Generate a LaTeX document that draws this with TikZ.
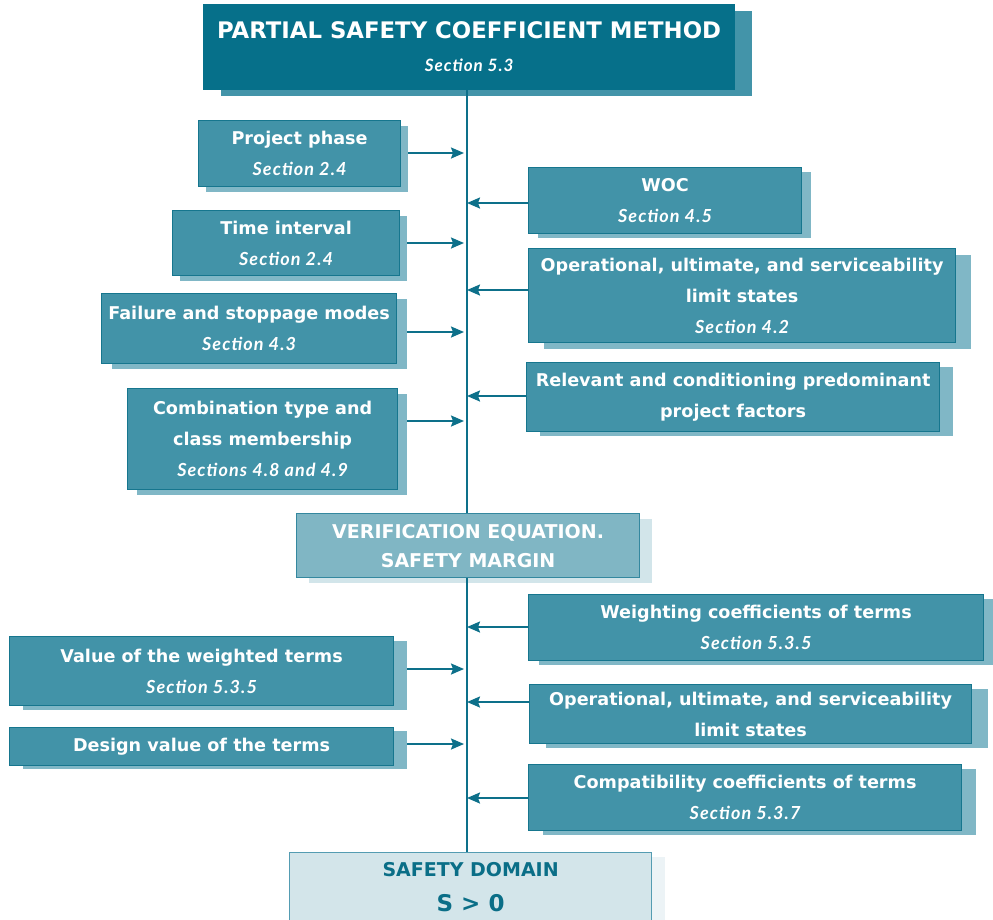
\documentclass[tikz,border=0pt]{standalone}
\usepackage{fontspec}
\setmainfont{DejaVu Sans}
\newfontfamily\secfont{Lato}[BoldItalicFeatures={LetterSpace=6}]
\usetikzlibrary{arrows.meta,shadows}

\definecolor{topfill}{RGB}{6,112,138}
\definecolor{topshade}{RGB}{67,148,169}
\definecolor{boxfill}{RGB}{66,147,168}
\definecolor{boxline}{RGB}{22,118,142}
\definecolor{boxshade}{RGB}{128,183,198}
\definecolor{verfill}{RGB}{128,182,196}
\definecolor{verline}{RGB}{52,136,159}
\definecolor{vershade}{RGB}{210,229,234}
\definecolor{safefill}{RGB}{211,229,234}
\definecolor{safeline}{RGB}{84,156,178}
\definecolor{safeshade}{RGB}{236,243,246}
\definecolor{safetext}{RGB}{10,110,135}
\definecolor{linkc}{RGB}{13,112,138}

% section references under the box titles
\newcommand{\sect}[1]{{\secfont\bfseries\itshape\fontsize{18}{31}\selectfont #1}}

\tikzset{
  base/.style={anchor=north west, inner sep=0pt, align=center,
    line width=1.2pt},
  box/.style 2 args={base, draw=boxline, fill=boxfill, text=white,
    font=\bfseries\fontsize{17.6}{31}\selectfont,
    general shadow={fill=boxshade, shadow xshift=#1pt, shadow yshift=-#2pt}},
  spine/.style={draw=linkc, line width=2.4pt},
  link/.style={draw=linkc, line width=2pt,
    -{Stealth[length=13pt,width=11pt,inset=2pt]}},
}

\begin{document}
\begin{tikzpicture}[x=1pt,y=-1pt]
\useasboundingbox (0,0) rectangle (993,919);

% title box
\node[base, draw=topfill, fill=topfill, text=white,
  minimum width=531pt, minimum height=85pt,
  font=\bfseries\fontsize{22.8}{33}\selectfont,
  general shadow={fill=topshade, shadow xshift=17pt, shadow yshift=-6pt}]
  (top) at (203,4) {PARTIAL SAFETY COEFFICIENT METHOD\\{\secfont\bfseries\itshape\fontsize{17}{33}\selectfont Section 5.3}};

% upper inputs, left
\node[box={7}{5}, minimum width=202pt, minimum height=66pt] (phase) at (198,120)
  {Project phase\\\sect{Section 2.4}};
\node[box={7}{5}, minimum width=227pt, minimum height=65pt] (time) at (172,210)
  {Time interval\\\sect{Section 2.4}};
\node[box={10}{5}, minimum width=295pt, minimum height=70pt] (fail) at (101,293)
  {Failure and stoppage modes\\\sect{Section 4.3}};
\node[box={9}{5}, minimum width=270pt, minimum height=101pt] (comb) at (127,388)
  {Combination type and\\class membership\\\sect{Sections 4.8 and 4.9}};

% upper inputs, right
\node[box={9}{4}, minimum width=273pt, minimum height=66pt] (woc) at (528,167)
  {WOC\\\sect{Section 4.5}};
\node[box={15}{6}, minimum width=427pt, minimum height=94pt] (uls) at (528,248)
  {Operational, ultimate, and serviceability\\limit states\\\sect{Section 4.2}};
\node[box={13}{4}, minimum width=413pt, minimum height=69pt] (fact) at (526,362)
  {Relevant and conditioning predominant\\project factors};

% verification equation
\node[base, draw=verline, fill=verfill, text=white,
  minimum width=343pt, minimum height=64pt,
  font=\bfseries\fontsize{19}{29}\selectfont,
  general shadow={fill=vershade, shadow xshift=12pt, shadow yshift=-5pt}]
  (ver) at (296,513) {VERIFICATION EQUATION.\\SAFETY MARGIN};

% lower inputs, left
\node[box={13}{4}, minimum width=384pt, minimum height=69pt] (wval) at (9,636)
  {Value of the weighted terms\\\sect{Section 5.3.5}};
\node[box={13}{3}, minimum width=384pt, minimum height=38pt] (dval) at (9,727)
  {Design value of the terms};

% lower inputs, right
\node[box={10}{4}, minimum width=455pt, minimum height=66pt] (wcoef) at (528,594)
  {Weighting coefficients of terms\\\sect{Section 5.3.5}};
\node[box={16}{4}, minimum width=442pt, minimum height=59pt] (uls2) at (529,684)
  {Operational, ultimate, and serviceability\\limit states};
\node[box={14}{4}, minimum width=433pt, minimum height=66pt] (comp) at (528,764)
  {Compatibility coefficients of terms\\\sect{Section 5.3.7}};

% safety domain
\node[base, draw=safeline, fill=safefill, text=safetext,
  minimum width=362pt, minimum height=80pt,
  font=\bfseries\fontsize{19}{35}\selectfont,
  general shadow={fill=safeshade, shadow xshift=13pt, shadow yshift=-4pt}]
  (safe) at (289,852) {SAFETY DOMAIN\\{\fontsize{23}{35}\selectfont S > 0}\strut};

% central spine
\coordinate (sp) at (467,0);
\draw[spine] (top.south -| sp) -- (ver.north -| sp);
\draw[spine] (ver.south -| sp) -- (safe.north -| sp);

% arrow levels on the spine
\coordinate (a1) at (467,153);
\coordinate (a2) at (467,243);
\coordinate (a3) at (467,332);
\coordinate (a4) at (467,421);
\coordinate (b1) at (467,203);
\coordinate (b2) at (467,290);
\coordinate (b3) at (467,396);
\coordinate (a5) at (467,669);
\coordinate (a6) at (467,744);
\coordinate (b4) at (467,627);
\coordinate (b5) at (467,702);
\coordinate (b6) at (467,798);

% connectors into the spine from the left
\draw[link, shorten >=3pt] (a1 -| phase.east) ++(7,0) -- (a1);
\draw[link, shorten >=3pt] (a2 -| time.east) ++(7,0) -- (a2);
\draw[link, shorten >=3pt] (a3 -| fail.east) ++(10,0) -- (a3);
\draw[link, shorten >=3pt] (a4 -| comb.east) ++(9,0) -- (a4);
\draw[link, shorten >=3pt] (a5 -| wval.east) ++(13,0) -- (a5);
\draw[link, shorten >=3pt] (a6 -| dval.east) ++(13,0) -- (a6);

% connectors into the spine from the right
\draw[link] (b1 -| woc.west) -- (b1);
\draw[link] (b2 -| uls.west) -- (b2);
\draw[link] (b3 -| fact.west) -- (b3);
\draw[link] (b4 -| wcoef.west) -- (b4);
\draw[link] (b5 -| uls2.west) -- (b5);
\draw[link] (b6 -| comp.west) -- (b6);
\end{tikzpicture}
\end{document}
